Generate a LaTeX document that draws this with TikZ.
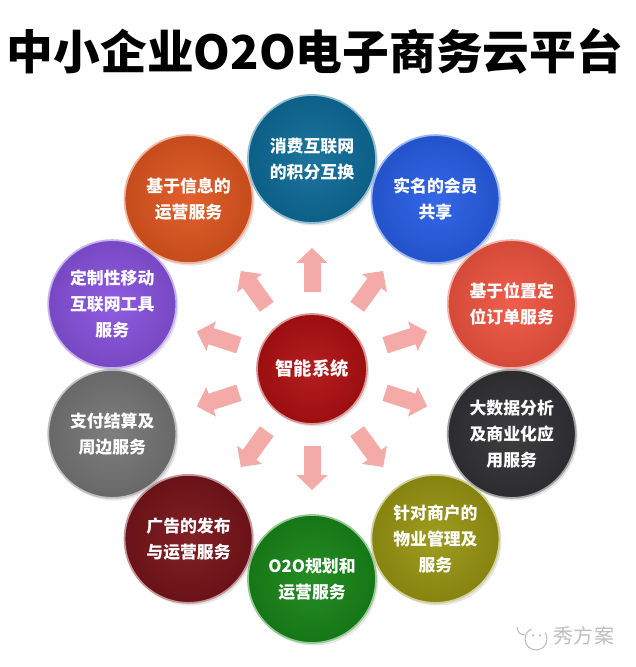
\documentclass[tikz,border=0pt]{standalone}
\usepackage{fontspec}
\newfontfamily\cjk{Noto Sans CJK SC}
\usetikzlibrary{arrows.meta}
\usetikzlibrary{shadows}
\usetikzlibrary{calc}
\usepackage{xcolor}

\definecolor{hubred}{RGB}{176,16,18}
\definecolor{ballteal}{RGB}{14,108,152}
\definecolor{ballblue}{RGB}{40,94,230}
\definecolor{ballsalmon}{RGB}{240,84,64}
\definecolor{balldark}{RGB}{50,50,52}
\definecolor{ballolive}{RGB}{152,150,18}
\definecolor{ballgreen}{RGB}{24,134,24}
\definecolor{ballmaroon}{RGB}{120,20,26}
\definecolor{ballgray}{RGB}{118,118,118}
\definecolor{ballpurple}{RGB}{136,82,222}
\definecolor{ballorange}{RGB}{224,86,32}
\definecolor{spokepink}{RGB}{244,170,166}
\definecolor{wmgray}{RGB}{190,190,190}

\tikzset{
  ball/.style={circle, inner sep=0pt, minimum size=2.56cm,
    shading=radial, inner color=#1!94!white, outer color=#1!88!black,
    draw=#1!45!white, line width=1pt,
    drop shadow={opacity=0.2, shadow xshift=0.04cm, shadow yshift=-0.05cm},
    text=white, align=center, font=\cjk\bfseries\fontsize{9.6}{14.8}\selectfont},
  spoke/.style={draw=spokepink, line width=0.34cm,
    -{Triangle[width=0.6cm,length=0.3cm]},
    shorten <=0.42cm, shorten >=0.48cm}
}

\begin{document}
\begin{tikzpicture}

        % Frame
        \useasboundingbox (-6.24,-5.96) rectangle (6.46,7.38);
        \fill[white] (-6.24,-5.96) rectangle (6.46,7.38);

        % Title
        \node (title) at (0.06,6.36) {\cjk\bfseries\fontsize{26.6}{30}\selectfont 中小企业O2O电子商务云平台};

        % Outer ring
        \foreach \ang/\col/\txt [count=\i] in {
            90/ballteal/{消费互联网\\的积分互换},
            54/ballblue/{实名的会员\\共享},
            18/ballsalmon/{基于位置定\\位订单服务},
            -18/balldark/{大数据分析\\及商业化应\\用服务},
            -54/ballolive/{针对商户的\\物业管理及\\服务},
            -90/ballgreen/{O2O规划和\\运营服务},
            -126/ballmaroon/{广告的发布\\与运营服务},
            -162/ballgray/{支付结算及\\周边服务},
            162/ballpurple/{定制性移动\\互联网工具\\服务},
            126/ballorange/{基于信息的\\运营服务}}
        {
          \node[ball=\col] (n\i) at (\ang:4.2) {\txt};
        }

        % Hub
        \node[ball=hubred, minimum size=2.2cm, font=\cjk\bfseries\fontsize{10.4}{14}\selectfont] (hub) at (0,0) {智能系统};

        % Spokes
        \foreach \i in {1,...,10}
        {
          \draw[spoke] (hub) -- (n\i);
        }

        % Watermark
        \draw[wmgray, line width=0.6pt] ($(4.48,-5.4)+(115:0.22)$) arc[start angle=115, end angle=395, radius=0.22];
        \draw[wmgray, line width=0.6pt] (4.1,-5.16) .. controls (4.14,-5.3) .. (4.26,-5.32);
        \fill[wmgray] (4.42,-5.33) circle (0.025) (4.56,-5.33) circle (0.025);
        \node[text=wmgray, font=\cjk\fontsize{11.4}{13}\selectfont] (wm) at (5.44,-5.33) {秀方案};
    \end{tikzpicture}
\end{document}
